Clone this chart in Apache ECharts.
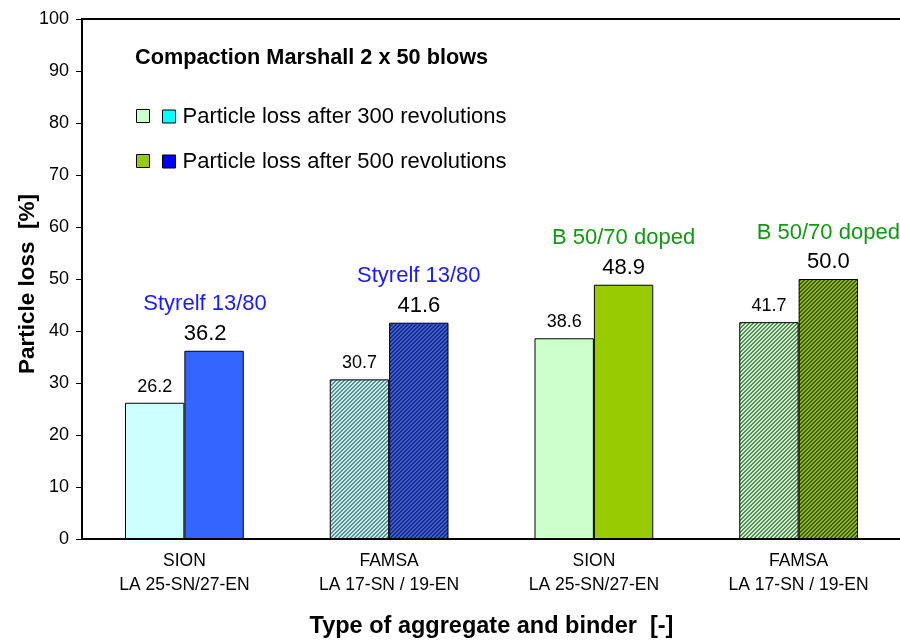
<!DOCTYPE html>
<html>
<head>
<meta charset="utf-8">
<script src="https://cdn.jsdelivr.net/npm/echarts@6/dist/echarts.min.js"></script>
<style>
    html, body { margin: 0; padding: 0; background: #fff; }
    #chart { width: 900px; height: 640px; }
</style>
</head>
<body>
<div id="chart"></div>
<script>
// 数据
const categories = ['SION\nLA 25-SN/27-EN', 'FAMSA\nLA 17-SN / 19-EN', 'SION\nLA 25-SN/27-EN', 'FAMSA\nLA 17-SN / 19-EN'];
const loss300 = [26.2, 30.7, 38.6, 41.7];
const loss500 = [36.2, 41.6, 48.9, 50.0];
const binders = ['Styrelf 13/80', 'Styrelf 13/80', 'B 50/70 doped', 'B 50/70 doped'];
const seriesNames = ['Particle loss after 300 revolutions', 'Particle loss after 500 revolutions'];

const FONT = 'Arial, "Liberation Sans", sans-serif';

/**
 * 斜线填充图案
 */
function hatch(bg, fg) {
    const c = document.createElement('canvas');
    c.width = 4;
    c.height = 4;
    const ctx = c.getContext('2d');
    ctx.fillStyle = bg;
    ctx.fillRect(0, 0, 4, 4);
    ctx.fillStyle = fg;
    for (let i = 0; i < 4; i++) {
        ctx.fillRect(i, 3 - i, 1, 1);
        ctx.fillRect((i + 1) % 4, 3 - i, 1, 1);
    }
    return { image: c, repeat: 'repeat' };
}

// 每个柱子的填充
const fill300 = ['#ccffff', hatch('#c4ecec', '#5f8f8f'), '#ccffcc', hatch('#cdf0cd', '#5a8a5a')];
const fill500 = ['#3366ff', hatch('#3a5ee0', '#1c2c78'), '#99cc00', hatch('#8fbf00', '#3d5500')];

const chart = echarts.init(document.getElementById('chart'));

const option = {
    backgroundColor: '#fff',
    textStyle: { fontFamily: FONT },
    grid: {
        left: 82,
        right: -1,
        top: 19,
        bottom: 101,
        outerBoundsMode: 'none',
        show: true,
        borderColor: '#000',
        borderWidth: 2
    },
    title: {
        text: 'Compaction Marshall 2 x 50 blows',
        left: 130,
        top: 42,
        textStyle: { fontFamily: FONT, fontSize: 21.7, fontWeight: 'bold', color: '#000' }
    },
    legend: {
        orient: 'vertical',
        left: 157,
        top: 100,
        itemWidth: 13,
        itemHeight: 13,
        itemGap: 22,
        icon: 'rect',
        data: seriesNames,
        textStyle: { fontFamily: FONT, fontSize: 22, lineHeight: 23, color: '#000', padding: [0, 0, 0, 2] },
        itemStyle: { borderColor: '#000', borderWidth: 1 }
    },
    graphic: [
        { type: 'rect', left: 136, top: 109, shape: { width: 13, height: 13 }, style: { fill: '#ccffcc', stroke: '#000', lineWidth: 1 } },
        { type: 'rect', left: 136, top: 154, shape: { width: 13, height: 13 }, style: { fill: '#99cc00', stroke: '#000', lineWidth: 1 } }
    ],
    xAxis: {
        type: 'category',
        data: categories,
        name: 'Type of aggregate and binder  [-]',
        nameLocation: 'middle',
        nameGap: 76,
        nameMoveOverlap: false,
        nameTextStyle: { fontFamily: FONT, fontSize: 23.5, fontWeight: 'bold', color: '#000' },
        axisLine: { lineStyle: { color: '#000', width: 2 } },
        axisTick: { length: 6, lineStyle: { color: '#000' } },
        axisLabel: { fontFamily: FONT, fontSize: 17.5, color: '#000', lineHeight: 24, margin: 10 }
    },
    yAxis: {
        type: 'value',
        min: 0,
        max: 100,
        interval: 10,
        name: 'Particle loss  [%]',
        nameLocation: 'middle',
        nameGap: 43,
        nameMoveOverlap: false,
        nameTextStyle: { fontFamily: FONT, fontSize: 22.5, fontWeight: 'bold', color: '#000', padding: [0, 10, 0, 0] },
        axisLine: { show: true, lineStyle: { color: '#000', width: 2 } },
        axisTick: { show: true, length: 6, lineStyle: { color: '#000' } },
        axisLabel: { fontFamily: FONT, fontSize: 18, color: '#000', margin: 13 },
        splitLine: { show: false }
    },
    series: [
        {
            name: seriesNames[0],
            type: 'bar',
            barGap: '0%',
            barCategoryGap: '42%',
            itemStyle: { color: '#00ffff', borderColor: '#000', borderWidth: 1 },
            label: {
                show: true,
                position: 'top',
                distance: 7,
                fontFamily: FONT,
                fontSize: 18,
                lineHeight: 18,
                color: '#000',
                formatter: p => p.value.toFixed(1)
            },
            data: loss300.map((v, i) => ({ value: v, itemStyle: { color: fill300[i] } }))
        },
        {
            name: seriesNames[1],
            type: 'bar',
            itemStyle: { color: '#0000ff', borderColor: '#000', borderWidth: 1 },
            label: {
                show: true,
                position: 'top',
                distance: 6,
                fontFamily: FONT,
                color: '#000',
                formatter: p => '{' + (p.dataIndex < 2 ? 'bb' : 'bg') + '|' + binders[p.dataIndex] + '}\n{n|' + p.value.toFixed(1) + '}',
                rich: {
                    bb: { fontFamily: FONT, fontSize: 22, color: '#1a1aff', lineHeight: 37 },
                    bg: { fontFamily: FONT, fontSize: 22, color: '#119911', lineHeight: 37 },
                    n: { fontFamily: FONT, fontSize: 22, color: '#000', lineHeight: 22 }
                }
            },
            // 第一组标注略偏左
            data: loss500.map((v, i) => ({
                value: v,
                itemStyle: { color: fill500[i] },
                label: i === 0 ? { offset: [-9, 0] } : {}
            }))
        }
    ]
};

chart.setOption(option);

window.addEventListener('resize', () => {
    chart && chart.resize();
});
</script>
</body>
</html>
